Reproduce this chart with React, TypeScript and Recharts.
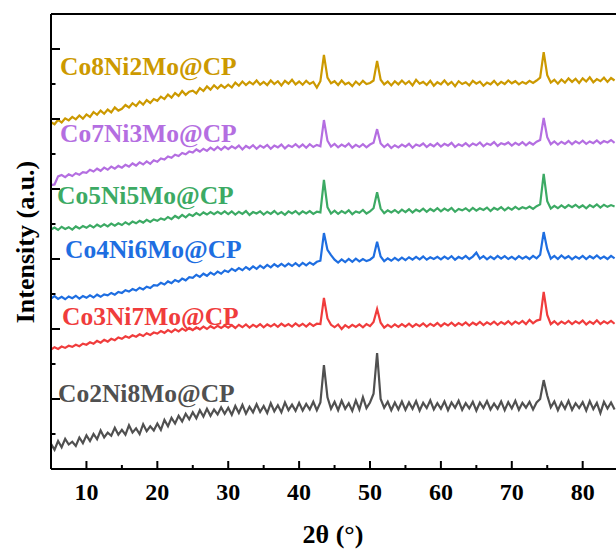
import { LineChart, Line, XAxis, YAxis, ReferenceLine } from "recharts";

const FONT = "'Liberation Serif', 'Times New Roman', serif";

// scan grid, 0.5° steps from 5° to 84.5°
const twoTheta = Array.from({ length: 160 }, (_, i) => 5 + i * 0.5);

const xTicks = [10, 15, 20, 25, 30, 35, 40, 45, 50, 55, 60, 65, 70, 75, 80];
const yTicks = [0, 100, 200, 300, 400, 500, 600, 700, 800, 900, 1000, 1100, 1200];

// stacked intensities (a.u.), top to bottom
const co8ni2 = [
  991, 985, 998, 990, 1002, 996, 1006, 999, 1010, 1001,
  1013, 1006, 1020, 1012, 1024, 1015, 1027, 1019, 1033, 1024,
  1029, 1040, 1033, 1045, 1037, 1050, 1041, 1054, 1046, 1057,
  1052, 1064, 1057, 1070, 1061, 1074, 1066, 1080, 1069, 1078,
  1081, 1073, 1088, 1080, 1093, 1084, 1096, 1087, 1097, 1089,
  1098, 1090, 1104, 1095, 1107, 1097, 1106, 1099, 1110, 1098,
  1106, 1097, 1110, 1100, 1108, 1096, 1109, 1101, 1112, 1099,
  1107, 1098, 1109, 1100, 1106, 1090, 1108, 1183, 1118, 1102,
  1108, 1097, 1110, 1099, 1104, 1094, 1107, 1098, 1109, 1100,
  1103, 1110, 1166, 1112, 1099, 1107, 1096, 1108, 1099, 1110,
  1100, 1108, 1096, 1112, 1101, 1106, 1097, 1109, 1095, 1105,
  1099, 1110, 1098, 1106, 1094, 1108, 1100, 1105, 1096, 1109,
  1101, 1107, 1095, 1104, 1099, 1109, 1097, 1106, 1100, 1110,
  1102, 1108, 1099, 1106, 1101, 1109, 1103, 1110, 1118, 1191,
  1125, 1104, 1112, 1101, 1113, 1104, 1116, 1106, 1115, 1103,
  1116, 1107, 1119, 1105, 1114, 1108, 1118, 1106, 1117, 1110,
];

const co7ni3 = [
  811, 813, 836, 840, 834, 842, 837, 845, 841, 848,
  846, 855, 850, 858, 852, 861, 855, 864, 858, 866,
  861, 869, 864, 873, 867, 876, 870, 879, 872, 882,
  878, 887, 884, 893, 889, 898, 894, 903, 899, 907,
  904, 913, 907, 915, 909, 918, 911, 920, 912, 921,
  914, 922, 916, 924, 913, 923, 917, 925, 915, 924,
  918, 926, 915, 924, 919, 927, 916, 925, 920, 928,
  919, 927, 918, 928, 920, 926, 922, 997, 938, 921,
  929, 919, 927, 921, 930, 918, 926, 920, 928, 919,
  927, 932, 971, 930, 920, 928, 917, 925, 919, 927,
  921, 929, 918, 927, 923, 930, 920, 928, 922, 931,
  921, 929, 924, 932, 920, 928, 923, 931, 922, 930,
  925, 933, 922, 930, 926, 934, 923, 931, 927, 933,
  924, 932, 926, 934, 925, 933, 927, 935, 940, 1003,
  948, 928, 936, 927, 935, 929, 937, 928, 936, 930,
  938, 929, 936, 931, 939, 930, 937, 933, 940, 932,
];

const co5ni5 = [
  684, 690, 683, 692, 686, 691, 684, 693, 687, 694,
  689, 696, 690, 698, 692, 699, 693, 701, 695, 702,
  697, 705, 699, 707, 702, 709, 704, 712, 706, 713,
  709, 716, 712, 720, 714, 723, 717, 726, 719, 728,
  723, 731, 725, 733, 727, 734, 728, 735, 729, 736,
  728, 736, 727, 735, 729, 737, 726, 734, 730, 736,
  727, 735, 729, 737, 728, 734, 726, 736, 730, 737,
  728, 736, 730, 737, 729, 735, 733, 826, 748, 730,
  738, 729, 737, 731, 739, 728, 736, 732, 740, 730,
  736, 745, 791, 744, 731, 739, 733, 740, 732, 741,
  734, 742, 733, 741, 736, 744, 735, 743, 737, 745,
  736, 744, 738, 746, 735, 743, 739, 745, 737, 746,
  738, 745, 740, 747, 737, 746, 741, 748, 739, 747,
  741, 749, 742, 748, 744, 750, 743, 751, 756, 843,
  765, 744, 752, 745, 753, 746, 754, 748, 755, 747,
  753, 745, 754, 748, 756, 747, 755, 749, 754, 750,
];

const co4ni6 = [
  487, 494, 486, 492, 485, 493, 488, 495, 487, 494,
  489, 496, 490, 498, 492, 499, 496, 503, 498, 506,
  503, 511, 507, 514, 510, 518, 513, 521, 517, 525,
  524, 532, 527, 536, 531, 540, 535, 544, 539, 548,
  546, 555, 549, 558, 552, 561, 555, 564, 558, 567,
  563, 572, 566, 574, 568, 577, 570, 579, 572, 581,
  574, 583, 576, 585, 578, 586, 579, 587, 580, 588,
  580, 589, 582, 590, 584, 592, 595, 674, 626, 611,
  598, 590, 599, 591, 600, 592, 601, 593, 600, 594,
  598, 606, 649, 607, 594, 602, 595, 603, 596, 604,
  597, 605, 598, 606, 599, 607, 598, 605, 600, 606,
  599, 607, 600, 608, 598, 606, 601, 609, 600, 607,
  618, 601, 608, 599, 607, 600, 609, 601, 608, 600,
  606, 599, 608, 601, 607, 600, 609, 602, 612, 677,
  628, 601, 609, 600, 610, 602, 608, 599, 607, 601,
  609, 600, 608, 602, 610, 601, 607, 600, 609, 602,
];

const co3ni7 = [
  341, 348, 343, 350, 346, 352, 349, 355, 351, 358,
  355, 362, 358, 366, 361, 369, 364, 372, 368, 376,
  372, 379, 375, 382, 378, 385, 380, 388, 383, 390,
  387, 394, 389, 397, 391, 399, 393, 401, 395, 403,
  397, 405, 399, 407, 400, 408, 402, 409, 403, 410,
  404, 411, 403, 412, 405, 413, 404, 412, 406, 414,
  405, 413, 407, 414, 406, 415, 408, 414, 407, 416,
  408, 415, 407, 416, 409, 415, 414, 489, 430, 412,
  405, 413, 400, 411, 404, 412, 406, 413, 405, 414,
  408, 420, 457, 418, 404, 412, 405, 413, 406, 414,
  407, 415, 406, 414, 408, 416, 407, 415, 409, 417,
  408, 416, 410, 418, 409, 417, 411, 419, 410, 418,
  412, 420, 411, 419, 413, 421, 412, 420, 414, 422,
  413, 421, 415, 423, 414, 426, 416, 424, 427, 506,
  440, 414, 422, 413, 421, 415, 423, 414, 422, 416,
  424, 413, 421, 415, 425, 414, 422, 416, 423, 415,
];

const co2ni8 = [
  72, 55, 80, 62, 86, 70, 78, 66, 90, 74,
  96, 80, 100, 85, 110, 90, 104, 95, 118, 98,
  112, 98, 125, 104, 116, 100, 128, 108, 122, 110,
  130, 112, 140, 122, 146, 130, 152, 136, 158, 142,
  162, 145, 168, 150, 172, 152, 170, 156, 176, 158,
  175, 155, 180, 160, 183, 158, 178, 162, 185, 163,
  180, 160, 188, 165, 182, 162, 190, 168, 184, 166,
  189, 167, 186, 170, 192, 168, 190, 297, 205, 172,
  192, 168, 195, 172, 188, 166, 196, 170, 205, 174,
  190, 215, 331, 200, 175, 192, 168, 190, 170, 193,
  169, 190, 172, 194, 167, 189, 174, 196, 170, 188,
  172, 193, 168, 190, 175, 195, 169, 188, 173, 192,
  167, 190, 174, 194, 170, 187, 172, 193, 168, 191,
  173, 195, 169, 189, 175, 192, 170, 190, 200, 254,
  210, 176, 193, 168, 190, 172, 195, 169, 188, 174,
  191, 167, 194, 171, 189, 160, 192, 173, 190, 170,
];

const series = [
  { key: "co2ni8", name: "Co2Ni8Mo@CP", values: co2ni8, color: "#505050", lx: 58, ly: 402 },
  { key: "co3ni7", name: "Co3Ni7Mo@CP", values: co3ni7, color: "#f03c3c", lx: 62, ly: 325 },
  { key: "co4ni6", name: "Co4Ni6Mo@CP", values: co4ni6, color: "#1e6ee1", lx: 65, ly: 258 },
  { key: "co5ni5", name: "Co5Ni5Mo@CP", values: co5ni5, color: "#3caa64", lx: 57, ly: 204 },
  { key: "co7ni3", name: "Co7Ni3Mo@CP", values: co7ni3, color: "#b46ee1", lx: 60, ly: 142 },
  { key: "co8ni2", name: "Co8Ni2Mo@CP", values: co8ni2, color: "#cc9900", lx: 60, ly: 75 },
];

const data = twoTheta.map((t, i) => {
  const row: Record<string, number> = { t };
  series.forEach((s) => (row[s.key] = s.values[i]));
  return row;
});

function XTick({ x, y, payload }: any) {
  const major = payload.value % 10 === 0;
  return (
    <g>
      <line x1={x} x2={x} y1={y} y2={y - (major ? 8 : 4)} stroke="#000" strokeWidth={2} />
      {major && (
        <text x={x} y={y + 31} textAnchor="middle" fontFamily={FONT} fontWeight="bold" fontSize={24} fill="#000">
          {payload.value}
        </text>
      )}
    </g>
  );
}

function YTick({ x, y, payload }: any) {
  const major = payload.value % 200 === 0;
  return <line x1={x} x2={x + (major ? 9 : 4.5)} y1={y} y2={y} stroke="#000" strokeWidth={2} />;
}

export default function App() {
  return (
    <div style={{ position: "absolute", left: 0, top: 0, width: 616, height: 552, background: "#fff" }}>
      <LineChart width={616} height={552} data={data} margin={{ top: 14, right: 0, bottom: 43, left: 41 }}>
        <XAxis
          dataKey="t"
          type="number"
          domain={[5, 84.7]}
          ticks={xTicks}
          height={40}
          tickSize={0}
          tickMargin={0}
          tickLine={false}
          tick={<XTick />}
          axisLine={{ stroke: "#000", strokeWidth: 2 }}
          allowDataOverflow
        />
        <YAxis
          type="number"
          domain={[0, 1300]}
          ticks={yTicks}
          width={10}
          tickSize={0}
          tickMargin={0}
          tickLine={false}
          tick={<YTick />}
          axisLine={{ stroke: "#000", strokeWidth: 2 }}
          allowDataOverflow
        />
        <ReferenceLine y={1300} stroke="#000" strokeWidth={2} ifOverflow="visible" />
        {series.map((s) => (
          <Line
            key={s.key}
            dataKey={s.key}
            type="linear"
            stroke={s.color}
            strokeWidth={2.2}
            dot={false}
            isAnimationActive={false}
          />
        ))}
      </LineChart>
      <svg width={616} height={552} style={{ position: "absolute", left: 0, top: 0, pointerEvents: "none" }}>
        {series.map((s) => (
          <text key={s.key} x={s.lx} y={s.ly} fontFamily={FONT} fontWeight="bold" fontSize={25.5} fill={s.color}>
            {s.name}
          </text>
        ))}
        <text x={333} y={543} textAnchor="middle" fontFamily={FONT} fontWeight="bold" fontSize={26} fill="#000">
          2θ (°)
        </text>
        <text
          transform="translate(34,242) rotate(-90)"
          textAnchor="middle"
          fontFamily={FONT}
          fontWeight="bold"
          fontSize={26}
          fill="#000"
        >
          Intensity (a.u.)
        </text>
      </svg>
    </div>
  );
}
